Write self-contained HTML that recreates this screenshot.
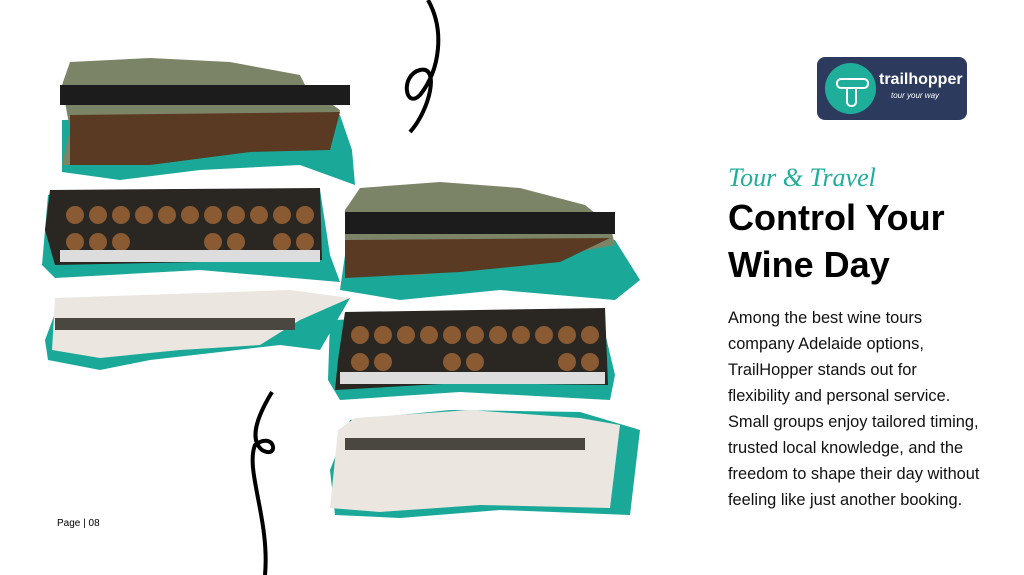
<!DOCTYPE html>
<html><head><meta charset="utf-8"><style>
body{margin:0;width:1024px;height:575px;background:#fff;overflow:hidden;position:relative;font-family:"Liberation Sans",sans-serif}
.logo{position:absolute;left:817px;top:57px;width:150px;height:63px;background:#2c3a5e;border-radius:8px}
.logo .c{position:absolute;left:8px;top:6px;width:51px;height:51px;border-radius:50%;background:#1fae9a}
.logo .c:before{content:"";position:absolute;left:11px;top:15px;width:29px;height:7px;border:2px solid #fff;border-radius:5px}
.logo .c:after{content:"";position:absolute;left:21px;top:24px;width:7px;height:18px;border:2px solid #fff;border-top:none;border-radius:0 0 5px 5px}
.logo .t{position:absolute;left:62px;top:14px;color:#fff;font-weight:bold;font-size:16px}
.logo .s{position:absolute;left:74px;top:34px;color:#fff;font-size:8px;font-style:italic}
.sc{position:absolute;left:728px;top:163px;color:#1fae9a;font-family:"Liberation Serif",serif;font-style:italic;font-size:26px}
h1{position:absolute;left:728px;top:194px;margin:0;font-size:36px;line-height:47px;font-weight:bold;color:#000}
p{position:absolute;left:728px;top:305px;margin:0;width:290px;font-size:16.4px;line-height:26px;color:#111;white-space:nowrap}
.pg{position:absolute;left:57px;top:518px;font-size:10px;color:#000}
</style></head><body>
<svg width="1024" height="575" style="position:absolute;left:0;top:0">
<polygon points="62,120 340,115 352,150 355,185 300,165 200,170 120,180 62,172" fill="#1aa898"/>
<polygon points="62,85 70,62 150,58 230,62 300,75 305,85 340,110 330,150 250,150 150,165 62,165 70,130" fill="#7c8468"/>
<rect x="60" y="85" width="290" height="20" fill="#1c1c1c"/>
<polygon points="70,115 340,112 330,150 250,152 150,165 70,165" fill="#5a3a22"/>
<polygon points="48,195 320,190 330,255 340,282 200,270 55,278 42,265" fill="#1aa898"/>
<polygon points="50,190 320,188 322,260 200,262 55,265 45,230" fill="#2a2622"/>
<g fill="#8a5a33"><circle cx="75" cy="215" r="9"/><circle cx="98" cy="215" r="9"/><circle cx="121" cy="215" r="9"/><circle cx="144" cy="215" r="9"/><circle cx="167" cy="215" r="9"/><circle cx="190" cy="215" r="9"/><circle cx="213" cy="215" r="9"/><circle cx="236" cy="215" r="9"/><circle cx="259" cy="215" r="9"/><circle cx="282" cy="215" r="9"/><circle cx="305" cy="215" r="9"/>
<circle cx="75" cy="242" r="9"/><circle cx="98" cy="242" r="9"/><circle cx="121" cy="242" r="9"/><circle cx="213" cy="242" r="9"/><circle cx="236" cy="242" r="9"/><circle cx="282" cy="242" r="9"/><circle cx="305" cy="242" r="9"/></g>
<rect x="60" y="250" width="260" height="12" fill="#ddd"/>
<polygon points="45,340 60,300 350,298 320,350 280,345 220,352 150,360 100,370 48,360" fill="#1aa898"/>
<polygon points="55,298 290,290 350,298 300,320 260,345 180,350 100,358 52,350" fill="#ebe6df"/>
<rect x="55" y="318" width="240" height="12" fill="#4a4640"/>
<polygon points="345,255 615,240 640,280 615,300 500,290 400,300 340,290" fill="#1aa898"/>
<polygon points="345,210 360,188 440,182 520,188 585,205 610,225 615,245 520,262 420,275 345,275" fill="#7c8468"/>
<rect x="345" y="212" width="270" height="22" fill="#1c1c1c"/>
<polygon points="345,240 610,238 560,262 460,272 345,278" fill="#5a3a22"/>
<polygon points="330,320 600,312 615,375 610,400 460,392 340,400 328,380" fill="#1aa898"/>
<polygon points="345,312 605,308 608,385 460,383 335,390 338,360" fill="#2a2622"/>
<g fill="#8a5a33"><circle cx="360" cy="335" r="9"/><circle cx="383" cy="335" r="9"/><circle cx="406" cy="335" r="9"/><circle cx="429" cy="335" r="9"/><circle cx="452" cy="335" r="9"/><circle cx="475" cy="335" r="9"/><circle cx="498" cy="335" r="9"/><circle cx="521" cy="335" r="9"/><circle cx="544" cy="335" r="9"/><circle cx="567" cy="335" r="9"/><circle cx="590" cy="335" r="9"/>
<circle cx="360" cy="362" r="9"/><circle cx="383" cy="362" r="9"/><circle cx="452" cy="362" r="9"/><circle cx="475" cy="362" r="9"/><circle cx="567" cy="362" r="9"/><circle cx="590" cy="362" r="9"/></g>
<rect x="340" y="372" width="265" height="12" fill="#ddd"/>
<polygon points="330,470 350,420 450,410 580,412 640,430 630,515 500,510 400,518 335,515" fill="#1aa898"/>
<polygon points="338,430 355,418 470,410 580,418 620,425 610,508 480,505 380,512 330,508" fill="#ebe6df"/>
<rect x="345" y="438" width="240" height="12" fill="#4a4640"/>
<path d="M428,0 C445,30 440,70 420,95 C405,110 400,75 420,70 C440,65 430,110 410,132" stroke="#000" stroke-width="4" fill="none"/>
<path d="M272,392 C255,420 250,440 262,450 C280,460 275,430 255,445 C245,470 270,520 265,575" stroke="#000" stroke-width="4" fill="none"/>
</svg>
<div class="logo"><div class="c"></div><div class="t">trailhopper</div><div class="s">tour your way</div></div>
<div class="sc">Tour &amp; Travel</div>
<h1>Control Your<br>Wine Day</h1>
<p>Among the best wine tours<br>company Adelaide options,<br>TrailHopper stands out for<br>flexibility and personal service.<br>Small groups enjoy tailored timing,<br>trusted local knowledge, and the<br>freedom to shape their day without<br>feeling like just another booking.</p>
<div class="pg">Page | 08</div>
</body></html>
